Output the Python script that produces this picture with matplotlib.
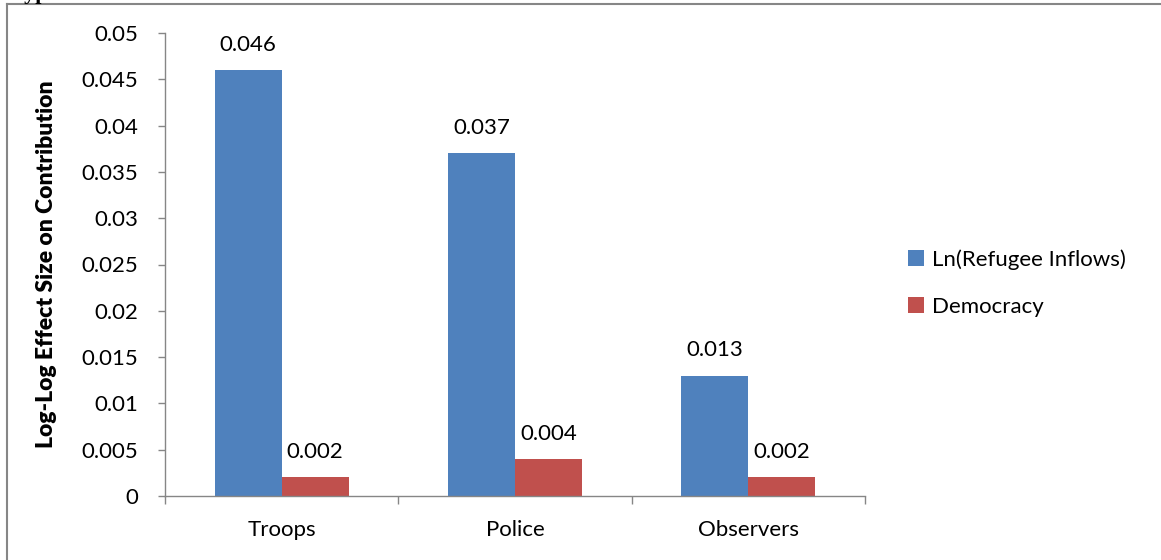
import matplotlib
matplotlib.use("Agg")
import matplotlib.pyplot as plt
from matplotlib.lines import Line2D
import numpy as np

categories = ["Troops", "Police", "Observers"]
refugee_inflows = [0.046, 0.037, 0.013]
democracy = [0.002, 0.004, 0.002]
series_names = ["Ln(Refugee Inflows)", "Democracy"]
y_ticks = [0, 0.005, 0.01, 0.015, 0.02, 0.025, 0.03, 0.035, 0.04, 0.045, 0.05]
y_tick_labels = ["0", "0.005", "0.01", "0.015", "0.02", "0.025", "0.03",
                 "0.035", "0.04", "0.045", "0.05"]

BLUE = "#4F81BD"
RED = "#C0504D"
GRAY = "#868686"
FONT = "Lato"

W, H = 1161, 560
fig = plt.figure(figsize=(W / 100, H / 100), dpi=100)
ax = fig.add_axes([165 / W, 1 - 496 / H, (865 - 165) / W, (496 - 33) / H])

x = np.arange(len(categories))
bw = 0.287
b1 = ax.bar(x - bw / 2, refugee_inflows, bw, color=BLUE, label=series_names[0])
b2 = ax.bar(x + bw / 2, democracy, bw, color=RED, label=series_names[1])

for bars, vals in ((b1, refugee_inflows), (b2, democracy)):
    for r, v in zip(bars, vals):
        ax.annotate(f"{v:g}", (r.get_x() + r.get_width() / 2, v),
                    xytext=(0, 11), textcoords="offset points",
                    ha="center", va="bottom", fontsize=16, family=FONT)

ax.set_xlim(-0.5, len(categories) - 0.5)
ax.set_ylim(0, 0.05)
ax.set_yticks(y_ticks)
ax.set_yticklabels(y_tick_labels, family=FONT, fontsize=16)
ax.set_xticks(x)
ax.set_xticklabels(categories, family=FONT, fontsize=16)
ax.tick_params(axis="x", length=0, pad=17)
ax.tick_params(axis="y", length=5, width=1, color=GRAY, pad=14)
ax.set_xticks(np.arange(-0.5, len(categories), 1.0), minor=True)
ax.tick_params(axis="x", which="minor", length=6, width=1, color=GRAY)

for s in ("top", "right"):
    ax.spines[s].set_visible(False)
for s in ("left", "bottom"):
    ax.spines[s].set_color(GRAY)
    ax.spines[s].set_linewidth(1)

ax.set_ylabel("Log-Log Effect Size on Contribution", family=FONT,
              fontsize=16.5, fontweight="heavy", labelpad=18)

leg = fig.legend(handles=[b1, b2], labels=series_names,
                 loc="center left", bbox_to_anchor=(888 / W, 1 - 283 / H),
                 frameon=False, prop={"family": FONT, "size": 16},
                 handlelength=0.7, handleheight=0.7, handletextpad=0.4,
                 labelspacing=1.2)

# outer frame
fig.add_artist(Line2D([7 / W, 7 / W], [0, 1 - 3.5 / H], transform=fig.transFigure,
                      color=GRAY, lw=1.5))
fig.add_artist(Line2D([7 / W, 1], [1 - 3.5 / H, 1 - 3.5 / H], transform=fig.transFigure,
                      color=GRAY, lw=1.5))
fig.text(12 / W, 1 + 1 / H, "Types", family="Liberation Serif", fontweight="bold",
         fontsize=16, va="baseline", ha="left")

fig.savefig("out.png", dpi=100, facecolor="white")
